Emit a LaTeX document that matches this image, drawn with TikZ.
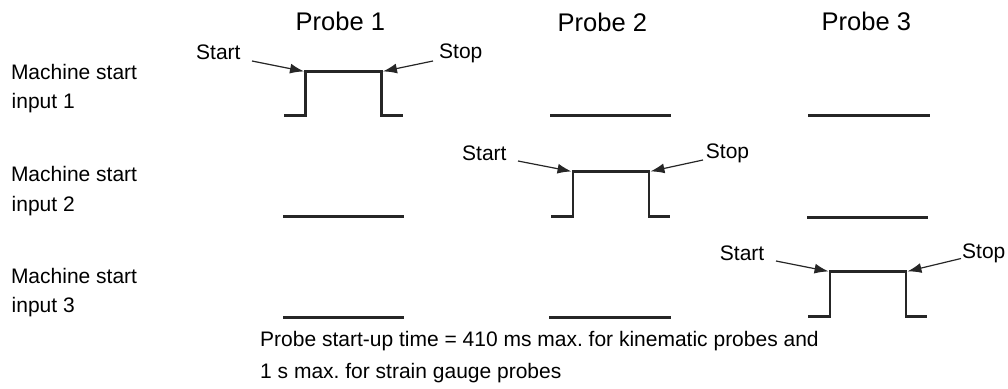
\documentclass[tikz,border=0pt]{standalone}
\usepackage{fontspec}
\setmainfont{Liberation Sans}
\usetikzlibrary{arrows.meta}
\frenchspacing
\begin{document}
\begin{tikzpicture}[x=1pt,y=-1pt,
  lbl/.style={inner sep=0pt,anchor=base west,font=\fontsize{21}{25}\selectfont},
  ttl/.style={inner sep=0pt,anchor=base west,font=\fontsize{25.5}{30}\selectfont},
  sig/.style={line width=2.6pt,line join=miter,black!85},
  pointer/.style={line width=1.2pt,black!85,-{Latex[length=14pt,width=10pt]},shorten >=1.5pt}]
\useasboundingbox (0,0) rectangle (1008,388);
% titles
\node[ttl] (t1) at (295.5,30.5) {Probe 1};
\node[ttl] (t2) at (557.5,31.5) {Probe 2};
\node[ttl] (t3) at (821.5,30.7) {Probe 3};
% row labels
\node[lbl] (m1a) at (10.8,79.3) {Machine start};
\node[lbl] (m1b) at (11.5,108.3) {input 1};
\node[lbl] (m2a) at (10.8,181.7) {Machine start};
\node[lbl] (m2b) at (11.5,211) {input 2};
\node[lbl] (m3a) at (10.8,283.3) {Machine start};
\node[lbl] (m3b) at (11.5,312.7) {input 3};
% row 1
\coordinate (r1s) at (305.5,71.7);
\coordinate (r1e) at (381.5,71.7);
\draw[sig] (284,115.7) -- (305.5,115.7) -- (r1s) -- (r1e) -- (381.5,115.7) -- (403,115.7);
\draw[sig] (550,115.7) -- (671,115.7);
\draw[sig] (808,115.7) -- (930,115.7);
% row 2
\coordinate (r2s) at (573,171.7);
\coordinate (r2e) at (649,171.7);
\draw[sig] (283,216.7) -- (404,216.7);
\draw[sig] (551,216.5) -- (573,216.5) -- (r2s) -- (r2e) -- (649,216.5) -- (670,216.5);
\draw[sig] (807,217.2) -- (928,217.2);
% row 3
\coordinate (r3s) at (830,271.7);
\coordinate (r3e) at (906,271.7);
\draw[sig] (283,317.3) -- (404,317.3);
\draw[sig] (549,317.3) -- (671,317.3);
\draw[sig] (808,316.5) -- (830,316.5) -- (r3s) -- (r3e) -- (906,316.5) -- (927,316.5);
% start/stop labels
\node[lbl] (st1) at (196,59.3) {Start};
\node[lbl] (sp1) at (439,58) {Stop};
\node[lbl] (st2) at (462,160) {Start};
\node[lbl] (sp2) at (705.7,158.3) {Stop};
\node[lbl] (st3) at (719.7,260) {Start};
\node[lbl] (sp3) at (962,258) {Stop};
\coordinate (a1) at (252,61);
\coordinate (b1) at (433,61);
\coordinate (a2) at (518,161);
\coordinate (b2) at (703,160);
\coordinate (a3) at (776,261);
\coordinate (b3) at (961,258.5);
\draw[pointer] (a1) -- (r1s);
\draw[pointer] (b1) -- (r1e);
\draw[pointer] (a2) -- (r2s);
\draw[pointer] (b2) -- (r2e);
\draw[pointer] (a3) -- (r3s);
\draw[pointer] (b3) -- (r3e);
% note
\node[lbl] (n1) at (260,346.7) {Probe start-up time = 410 ms max. for kinematic probes and};
\node[lbl] (n2) at (260,378) {1 s max. for strain gauge probes};
\end{tikzpicture}
\end{document}
